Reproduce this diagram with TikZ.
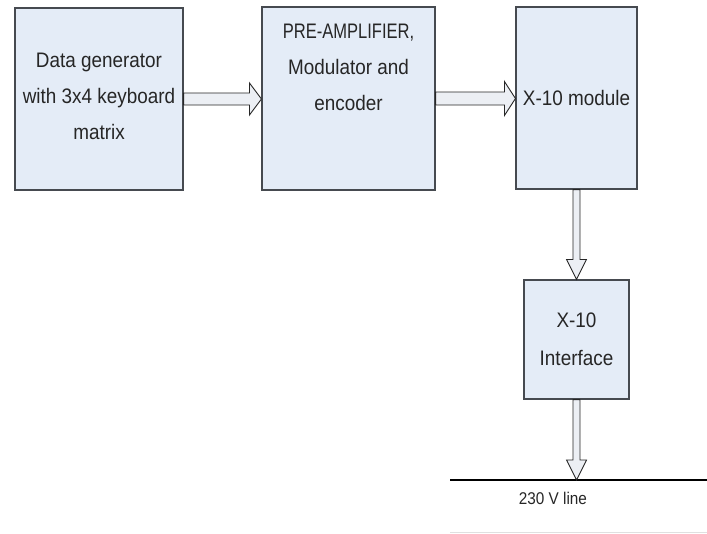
\documentclass[tikz,border=0pt]{standalone}
\usepackage{fontspec}
\usepackage{graphicx}
\setmainfont{Liberation Sans}[FakeStretch=0.9]
\usetikzlibrary{calc}
\definecolor{boxfill}{RGB}{228,236,247}
\definecolor{boxline}{RGB}{70,74,80}
\definecolor{arrfill}{RGB}{236,239,244}
\tikzset{
  blockbox/.style={draw=boxline, line width=1.1pt, fill=boxfill, rectangle, inner sep=0pt},
  blocktext/.style={align=center, font=\fontsize{21}{36}\selectfont, text=black!85, inner sep=0pt},
  hollow/.style={draw=black!85, line width=0.9pt, fill=arrfill, line join=miter},
}
\begin{document}
\begin{tikzpicture}[x=1pt,y=-1pt]
\useasboundingbox (0,0) rectangle (707,533);
% blocks
\node[blockbox, minimum width=168pt, minimum height=182pt] (b1) at (99,99) {};
\node[blockbox, minimum width=173pt, minimum height=183pt] (b2) at (348.5,98.5) {};
\node[blockbox, minimum width=121pt, minimum height=182pt] (b3) at (576.5,98) {};
\node[blockbox, minimum width=105pt, minimum height=119pt] (b4) at (576.5,339.5) {};
% texts
\node[blocktext] (t1) at (99,96) {Data generator\\with 3x4 keyboard\\matrix};
\node[blocktext] (t2) at (348.5,67) {\scalebox{0.875}[1]{PRE-AMPLIFIER,}\\Modulator and\\encoder};
\node[blocktext] (t3) at (576.5,98) {X-10 module};
\node[blocktext, font=\fontsize{21}{38}\selectfont] (t4) at (576.5,339) {X-10\\Interface};
% 230 V line
\coordinate (l1) at (450,480);
\coordinate (l2) at (707,480);
\coordinate (m1) at (450,532);
\coordinate (m2) at (707,532);
\draw[black, line width=1.4pt] (l1) -- (l2);
\draw[black!12, line width=0.8pt] (m1) -- (m2);
\node[font=\fontsize{17}{18}\selectfont, text=black!85, inner sep=0pt] (t5) at (553,498) {230 V line};
% horizontal hollow arrows
\draw[hollow] let \p1=(b1.east), \p2=(b2.west) in
  (\x1,\y1+6pt) -- (\x2-12pt,\y1+6pt) -- (\x2-12pt,\y1+16pt) -- (\x2,\y1) --
  (\x2-12pt,\y1-16pt) -- (\x2-12pt,\y1-6pt) -- (\x1,\y1-6pt) -- cycle;
\draw[hollow] let \p1=(b2.east), \p2=(b3.west) in
  (\x1,\y1+6.5pt) -- (\x2-11pt,\y1+6.5pt) -- (\x2-11pt,\y1+17pt) -- (\x2,\y1) --
  (\x2-11pt,\y1-17pt) -- (\x2-11pt,\y1-6.5pt) -- (\x1,\y1-6.5pt) -- cycle;
% vertical hollow arrows
\draw[hollow] let \p1=(b3.south), \p2=(b4.north) in
  (\x1-3.5pt,\y1) -- (\x1-3.5pt,\y2+20pt) -- (\x1-10pt,\y2+20pt) -- (\x1,\y2) --
  (\x1+10pt,\y2+20pt) -- (\x1+3.5pt,\y2+20pt) -- (\x1+3.5pt,\y1) -- cycle;
\draw[hollow] let \p1=(b4.south), \p2=(b4.south |- l1) in
  (\x1-3.5pt,\y1) -- (\x1-3.5pt,\y2+20pt) -- (\x1-10pt,\y2+20pt) -- (\x1,\y2) --
  (\x1+10pt,\y2+20pt) -- (\x1+3.5pt,\y2+20pt) -- (\x1+3.5pt,\y1) -- cycle;
\end{tikzpicture}
\end{document}
